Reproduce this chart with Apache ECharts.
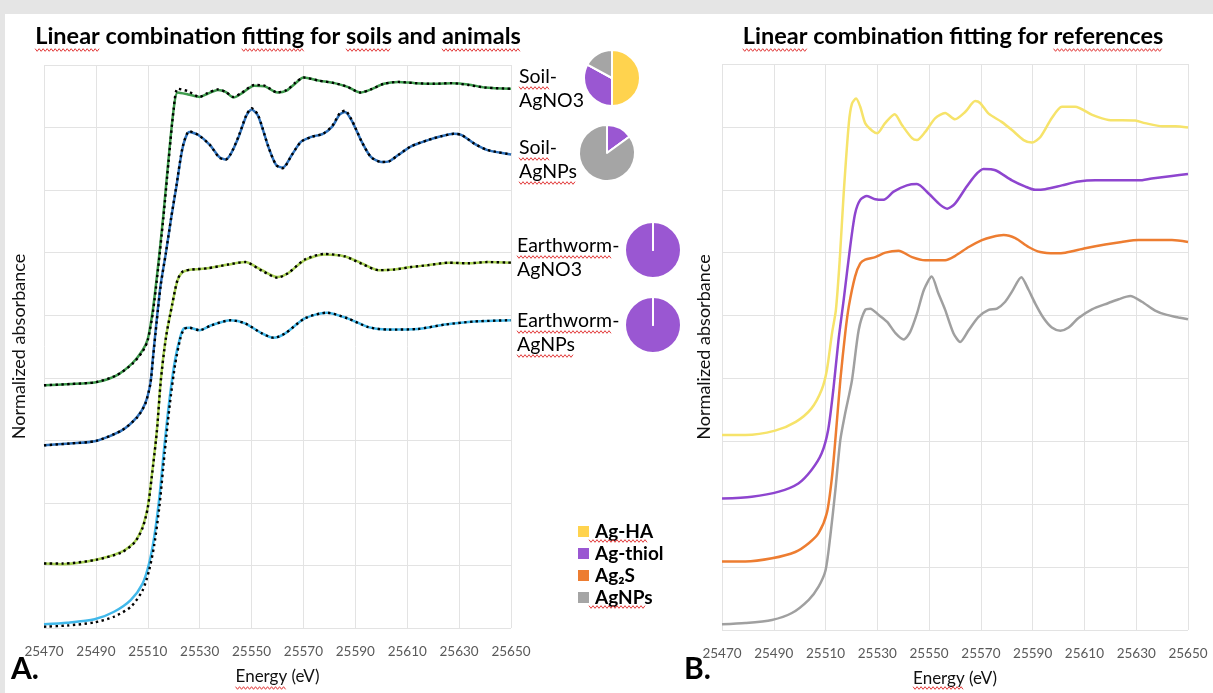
<!DOCTYPE html>
<html>
<head>
<meta charset="utf-8">
<script src="https://cdn.jsdelivr.net/npm/echarts/dist/echarts.min.js"></script>
<style>
  html, body { margin: 0; padding: 0; background: #fff; }
  #chart { width: 1213px; height: 693px; }
</style>
</head>
<body>
<div id="chart"></div>
<script>
// x axis runs in eV from 25470; ticks every 20 eV
const E0 = 25470;
const xSpan = 180;

// ---- panel A: samples (solid) and LCF fits (dotted) ----
const soilAgNO3E = [25470, 25480, 25490, 25498, 25504, 25508, 25510, 25512, 25514, 25516, 25518, 25520, 25521.5, 25525.5, 25530, 25533, 25537, 25540, 25543, 25546, 25551, 25555, 25560, 25563.5, 25567, 25570, 25576, 25582, 25587, 25592, 25596, 25601, 25606.5, 25613, 25620.5, 25627, 25633.5, 25640, 25650];
const soilAgNO3 = [3.88, 3.90, 3.93, 4.04, 4.23, 4.44, 4.62, 5.10, 5.80, 6.60, 7.50, 8.30, 8.56, 8.53, 8.49, 8.54, 8.60, 8.57, 8.48, 8.54, 8.67, 8.66, 8.56, 8.59, 8.71, 8.80, 8.75, 8.71, 8.65, 8.56, 8.61, 8.70, 8.73, 8.71, 8.70, 8.71, 8.69, 8.64, 8.62];
const soilAgNO3Fit = [3.88, 3.90, 3.93, 4.04, 4.22, 4.42, 4.60, 5.05, 5.75, 6.55, 7.45, 8.30, 8.62, 8.58, 8.49, 8.55, 8.61, 8.57, 8.49, 8.55, 8.68, 8.67, 8.56, 8.60, 8.72, 8.80, 8.75, 8.71, 8.65, 8.56, 8.61, 8.70, 8.73, 8.71, 8.70, 8.71, 8.68, 8.64, 8.62];

const soilAgNPsE = [25470, 25480, 25490, 25500, 25506, 25509, 25511, 25512, 25513.5, 25515, 25517, 25519, 25521, 25523.5, 25526, 25529.5, 25534, 25537.5, 25540, 25542, 25545, 25548, 25550, 25552.5, 25556.5, 25559.5, 25562, 25565.5, 25569, 25573, 25577.5, 25581, 25584, 25586, 25588.5, 25592.5, 25596, 25600, 25603, 25606.5, 25611.5, 25618, 25623, 25628, 25631, 25636, 25641, 25650];
const soilAgNPs = [2.92, 2.95, 2.99, 3.16, 3.38, 3.59, 3.91, 4.33, 4.95, 5.50, 6.00, 6.55, 7.05, 7.69, 7.93, 7.88, 7.72, 7.53, 7.49, 7.58, 7.85, 8.19, 8.29, 8.19, 7.69, 7.40, 7.36, 7.56, 7.77, 7.85, 7.90, 8.01, 8.21, 8.25, 8.12, 7.77, 7.53, 7.45, 7.46, 7.56, 7.70, 7.80, 7.86, 7.90, 7.88, 7.74, 7.64, 7.57];
const soilAgNPsFit = [2.92, 2.95, 2.99, 3.16, 3.37, 3.58, 3.90, 4.30, 4.92, 5.48, 6.00, 6.55, 7.06, 7.70, 7.94, 7.88, 7.72, 7.52, 7.49, 7.58, 7.86, 8.20, 8.31, 8.20, 7.69, 7.40, 7.35, 7.56, 7.77, 7.85, 7.90, 8.02, 8.23, 8.27, 8.13, 7.77, 7.53, 7.45, 7.46, 7.56, 7.70, 7.80, 7.86, 7.90, 7.88, 7.74, 7.64, 7.57];

const ewAgNO3E = [25470, 25477, 25490, 25500, 25505, 25508, 25510, 25511.5, 25513.5, 25515, 25517, 25519.5, 25521.5, 25523.5, 25527, 25533, 25541, 25547.5, 25554, 25560, 25564, 25570.5, 25578, 25586, 25592.5, 25599, 25605, 25611.5, 25618, 25626, 25633.5, 25641, 25650];
const ewAgNO3 = [1.03, 1.02, 1.09, 1.22, 1.38, 1.62, 1.94, 2.42, 3.16, 3.96, 4.65, 5.19, 5.56, 5.69, 5.73, 5.75, 5.81, 5.85, 5.72, 5.61, 5.67, 5.88, 5.97, 5.94, 5.83, 5.72, 5.73, 5.77, 5.80, 5.84, 5.83, 5.85, 5.84];
const ewAgNO3Fit = [1.03, 1.03, 1.09, 1.21, 1.37, 1.60, 1.92, 2.40, 3.14, 3.94, 4.64, 5.19, 5.57, 5.70, 5.73, 5.75, 5.81, 5.85, 5.71, 5.60, 5.67, 5.89, 5.98, 5.94, 5.82, 5.72, 5.73, 5.77, 5.80, 5.84, 5.83, 5.85, 5.84];

const ewAgNPsE = [25470, 25479, 25489.5, 25497, 25503.5, 25508, 25510.5, 25512.5, 25514.5, 25516.5, 25518.5, 25520.5, 25522.5, 25524, 25526, 25530, 25534.5, 25542, 25547.5, 25554, 25558.5, 25563, 25570.5, 25579, 25587, 25595, 25602.5, 25614, 25624.5, 25636, 25650];
const ewAgNPs = [0.06, 0.085, 0.14, 0.26, 0.45, 0.71, 1.03, 1.46, 2.10, 2.95, 3.70, 4.28, 4.65, 4.79, 4.80, 4.76, 4.84, 4.92, 4.87, 4.71, 4.64, 4.71, 4.95, 5.04, 4.95, 4.81, 4.77, 4.78, 4.85, 4.90, 4.92];
const ewAgNPsFit = [0.02, 0.04, 0.09, 0.18, 0.34, 0.60, 0.92, 1.33, 1.95, 2.80, 3.58, 4.20, 4.62, 4.78, 4.80, 4.76, 4.84, 4.92, 4.87, 4.71, 4.64, 4.71, 4.95, 5.04, 4.95, 4.81, 4.77, 4.78, 4.85, 4.90, 4.92];

// ---- panel B: reference spectra ----
const agHAE = [25470, 25479, 25490.5, 25498.5, 25504.5, 25508.5, 25510.5, 25512.5, 25514, 25515.5, 25517, 25519, 25520.2, 25521.8, 25523.4, 25525.3, 25528, 25530, 25533, 25536.7, 25539.5, 25543.4, 25545.3, 25548.5, 25552.4, 25556.2, 25560, 25564, 25567.8, 25569.7, 25573, 25578, 25582, 25586.5, 25589.7, 25593, 25597.4, 25601.3, 25606.4, 25613, 25619.3, 25629.6, 25633.4, 25640, 25645, 25650];
const agHA = [3.10, 3.10, 3.17, 3.31, 3.52, 3.82, 4.13, 4.72, 5.09, 5.90, 6.94, 8.06, 8.37, 8.45, 8.32, 8.06, 7.94, 7.90, 8.06, 8.20, 8.03, 7.82, 7.79, 7.92, 8.14, 8.22, 8.12, 8.24, 8.41, 8.38, 8.21, 8.08, 7.95, 7.79, 7.75, 7.84, 8.14, 8.32, 8.32, 8.19, 8.11, 8.10, 8.06, 8.01, 8.01, 7.99];

const agThiolE = [25470, 25481.5, 25492, 25499.5, 25504.5, 25508.5, 25511, 25513, 25515, 25517, 25519.5, 25521.4, 25523.4, 25526, 25529.2, 25532.4, 25536.3, 25541.4, 25545.3, 25549.8, 25554.3, 25557, 25560, 25564, 25567.8, 25571, 25575.6, 25582, 25587.2, 25591, 25594.8, 25601.3, 25607.7, 25614.2, 25620.6, 25631, 25636, 25643.8, 25650];
const agThiol = [2.09, 2.12, 2.20, 2.33, 2.54, 2.81, 3.18, 3.82, 4.61, 5.25, 6.09, 6.62, 6.84, 6.90, 6.85, 6.84, 6.97, 7.07, 7.09, 6.94, 6.76, 6.70, 6.78, 7.02, 7.23, 7.33, 7.31, 7.15, 7.05, 7.00, 7.01, 7.07, 7.13, 7.15, 7.15, 7.15, 7.18, 7.22, 7.25];

const ag2SE = [25470, 25479, 25489.3, 25498.3, 25503.5, 25507.3, 25510.5, 25512.5, 25514, 25515.7, 25517.6, 25519, 25521.4, 25523.4, 25525.3, 25529.2, 25533.1, 25538.2, 25543.4, 25548.5, 25556.2, 25560.1, 25565.3, 25570.4, 25574.3, 25578.8, 25583.3, 25588.4, 25592.9, 25598.7, 25602.6, 25610.3, 25618, 25624.4, 25630.9, 25643.8, 25650];
const ag2S = [1.09, 1.09, 1.14, 1.24, 1.38, 1.54, 1.86, 2.44, 3.13, 3.97, 4.72, 5.15, 5.62, 5.83, 5.89, 5.93, 6.00, 6.03, 5.93, 5.88, 5.88, 5.95, 6.09, 6.20, 6.25, 6.28, 6.23, 6.09, 6.01, 5.99, 6.00, 6.07, 6.13, 6.17, 6.20, 6.20, 6.17];

const agNPsE = [25470, 25479, 25489.3, 25497, 25503.5, 25507.3, 25510, 25511.8, 25513.8, 25515.7, 25517.6, 25520.2, 25522.8, 25525.3, 25527.3, 25530.5, 25533.8, 25537, 25540.2, 25542.7, 25545.3, 25548, 25551, 25553.6, 25556.2, 25559.4, 25562, 25565.3, 25569.1, 25573, 25576.2, 25579.4, 25582, 25585.6, 25588.4, 25591, 25594.2, 25597.4, 25600.7, 25603.9, 25607.7, 25612.9, 25619.3, 25623.2, 25627.7, 25632.2, 25637.3, 25641.8, 25646.3, 25650];
const agNPs = [0.09, 0.11, 0.16, 0.27, 0.48, 0.69, 0.95, 1.48, 2.23, 3.02, 3.45, 3.97, 4.77, 5.09, 5.11, 5.01, 4.90, 4.72, 4.62, 4.74, 5.03, 5.41, 5.62, 5.35, 5.09, 4.72, 4.58, 4.77, 4.98, 5.09, 5.11, 5.22, 5.38, 5.61, 5.41, 5.19, 4.96, 4.81, 4.76, 4.81, 4.96, 5.10, 5.20, 5.26, 5.31, 5.22, 5.08, 5.01, 4.97, 4.94];

// ---- pie fractions (%), order: Ag-HA, Ag-thiol, Ag2S, AgNPs ----
const pieNames = ['Ag-HA', 'Ag-thiol', 'Ag₂S', 'AgNPs'];
const pieColors = ['#FFD34E', '#9A57D2', '#ED7D31', '#A5A5A5'];
const soilAgNO3Pie = [50, 33, 0, 17];
const soilAgNPsPie = [0, 15, 0, 85];
const ewAgNO3Pie = [0, 100, 0, 0];
const ewAgNPsPie = [0, 100, 0, 0];

const FONT = 'Lato, "Noto Sans", sans-serif';

const chart = echarts.init(document.getElementById('chart'));

function line(E, V, color, idx, fit) {
  return {
    type: 'line',
    xAxisIndex: idx,
    yAxisIndex: idx,
    data: E.map((e, i) => [e - E0, V[i]]),
    showSymbol: false,
    smooth: 0.25,
    silent: true,
    animation: false,
    z: fit ? 4 : 3,
    lineStyle: fit
      ? { color: '#000', width: 2.4, type: [2.4, 3.4] }
      : { color: color, width: 2.5 },
    itemStyle: { color: fit ? '#000' : color },
  };
}

function pie(center, values) {
  return {
    type: 'pie',
    center: center,
    radius: 28,
    startAngle: 90,
    clockwise: true,
    silent: true,
    animation: false,
    label: { show: false },
    labelLine: { show: false },
    itemStyle: { borderColor: '#fff', borderWidth: 2 },
    data: pieNames.map((n, i) => ({ name: n, value: values[i], itemStyle: { color: pieColors[i] } })),
  };
}

// red spell-check squiggles under some words
const mctx = document.createElement('canvas').getContext('2d');
function tw(text, font) {
  mctx.font = font;
  return mctx.measureText(text).width;
}
function squiggle(x1, x2, y) {
  const pts = [];
  let k = 0;
  for (let x = x1; x <= x2; x += 2, k++) pts.push([x, y + (k % 2 ? 1.3 : -1.3)]);
  return { type: 'polyline', shape: { points: pts }, style: { stroke: '#e23b3b', lineWidth: 1, fill: null }, silent: true, z: 10 };
}
function wordWaves(text, words, left, y, font) {
  const out = [];
  words.forEach((w) => {
    const i = text.indexOf(w);
    const s = left + tw(text.slice(0, i), font);
    out.push(squiggle(s, s + tw(w, font), y));
  });
  return out;
}
function label(text, x, y, size, weight, align) {
  return {
    type: 'text',
    x: x,
    y: y,
    silent: true,
    style: {
      text: text,
      fill: '#000',
      fontSize: size,
      fontWeight: weight || 'normal',
      fontFamily: FONT,
      align: align || 'left',
      verticalAlign: 'middle',
      textAlign: align || 'left',
      textVerticalAlign: 'middle',
    },
  };
}

const titleA = 'Linear combination fitting for soils and animals';
const titleB = 'Linear combination fitting for references';
const titleFont = 'bold 23.5px Lato';
const leftA = 278 - tw(titleA, titleFont) / 2;
const leftB = 953 - tw(titleB, titleFont) / 2;
const pieFont = '19.5px Lato';
const legFont = 'bold 19px Lato';
const axFont = '17px Lato';

const graphics = [
  { type: 'rect', shape: { x: 0, y: 0, width: 1213, height: 14 }, style: { fill: '#e5e5e5' }, silent: true },
  { type: 'rect', shape: { x: 0, y: 0, width: 5, height: 693 }, style: { fill: '#e5e5e5' }, silent: true },
  label(titleA, 278, 36, 23.5, 'bold', 'center'),
  label(titleB, 953, 36, 23.5, 'bold', 'center'),
  label('Soil-', 519, 77, 19.5),
  label('AgNO3', 519, 101, 19.5),
  label('Soil-', 519, 148, 19.5),
  label('AgNPs', 519, 172, 19.5),
  label('Earthworm-', 517, 246, 19.5),
  label('AgNO3', 517, 270, 19.5),
  label('Earthworm-', 517, 321, 19.5),
  label('AgNPs', 517, 345, 19.5),
  label('A.', 11, 669, 30, 'bold'),
  label('B.', 684, 669, 30, 'bold'),
]
  .concat(wordWaves(titleA, ['Linear', 'fitting', 'soils', 'animals'], leftA, 50, titleFont))
  .concat(wordWaves(titleB, ['Linear', 'references'], leftB, 50, titleFont))
  .concat(wordWaves('Soil-', ['Soil'], 519, 88, pieFont))
  .concat(wordWaves('Soil-', ['Soil'], 519, 159, pieFont))
  .concat(wordWaves('AgNPs', ['AgNPs'], 519, 183, pieFont))
  .concat(wordWaves('Earthworm-', ['Earthworm'], 517, 257, pieFont))
  .concat(wordWaves('Earthworm-', ['Earthworm'], 517, 332, pieFont))
  .concat(wordWaves('AgNPs', ['AgNPs'], 517, 356, pieFont))
  .concat(wordWaves('Ag-HA', ['Ag-HA'], 589, 541, legFont))
  .concat(wordWaves('AgNPs', ['AgNPs'], 589, 607, legFont))
  .concat(wordWaves('Energy (eV)', ['Energy'], 277.5 - tw('Energy (eV)', axFont) / 2, 688, axFont))
  .concat(wordWaves('Energy (eV)', ['Energy'], 955 - tw('Energy (eV)', axFont) / 2, 688, axFont));

function xAxis(idx) {
  return {
    type: 'value',
    gridIndex: idx,
    min: 0,
    max: xSpan,
    interval: 20,
    name: 'Energy (eV)',
    nameLocation: 'middle',
    nameGap: 40,
    nameTextStyle: { color: '#111', fontSize: 17, fontFamily: FONT },
    axisLine: { show: false },
    axisTick: { show: false },
    axisLabel: { color: '#595959', fontSize: 13.5, fontFamily: FONT, margin: 17, formatter: (v) => String(v + E0) },
    splitLine: { show: true, lineStyle: { color: '#e3e3e3', width: 1 } },
  };
}
function yAxis(idx, gap) {
  return {
    type: 'value',
    gridIndex: idx,
    min: 0,
    max: 9,
    interval: 1,
    name: 'Normalized absorbance',
    nameLocation: 'middle',
    nameGap: gap,
    nameTextStyle: { color: '#111', fontSize: 18, fontFamily: FONT },
    axisLine: { show: false },
    axisTick: { show: false },
    axisLabel: { show: false },
    splitLine: { show: true, lineStyle: { color: '#e3e3e3', width: 1 } },
  };
}

chart.setOption({
  backgroundColor: '#fff',
  animation: false,
  grid: [
    { left: 44, top: 65, width: 467, height: 563, outerBoundsMode: 'none' },
    { left: 722, top: 64, width: 466, height: 566, outerBoundsMode: 'none' },
  ],
  xAxis: [xAxis(0), xAxis(1)],
  yAxis: [yAxis(0, 16), yAxis(1, 9)],
  legend: {
    data: pieNames,
    orient: 'vertical',
    left: 571,
    top: 517,
    itemWidth: 13,
    itemHeight: 13,
    itemGap: 3,
    itemTextGap: 6,
    icon: 'rect',
    selectedMode: false,
    textStyle: { color: '#000', fontSize: 19, fontWeight: 'bold', fontFamily: FONT },
  },
  graphic: graphics,
  series: [
    line(soilAgNO3E, soilAgNO3, '#3E9B4C', 0),
    line(soilAgNO3E, soilAgNO3Fit, null, 0, true),
    line(soilAgNPsE, soilAgNPs, '#2F72BC', 0),
    line(soilAgNPsE, soilAgNPsFit, null, 0, true),
    line(ewAgNO3E, ewAgNO3, '#A8D152', 0),
    line(ewAgNO3E, ewAgNO3Fit, null, 0, true),
    line(ewAgNPsE, ewAgNPs, '#41B8EA', 0),
    line(ewAgNPsE, ewAgNPsFit, null, 0, true),
    line(agHAE, agHA, '#F6E36A', 1),
    line(agThiolE, agThiol, '#8E45CF', 1),
    line(ag2SE, ag2S, '#ED7D31', 1),
    line(agNPsE, agNPs, '#A0A0A0', 1),
    pie([612, 78], soilAgNO3Pie),
    pie([607, 153], soilAgNPsPie),
    pie([653, 250], ewAgNO3Pie),
    pie([653, 325], ewAgNPsPie),
  ],
});
</script>
</body>
</html>
